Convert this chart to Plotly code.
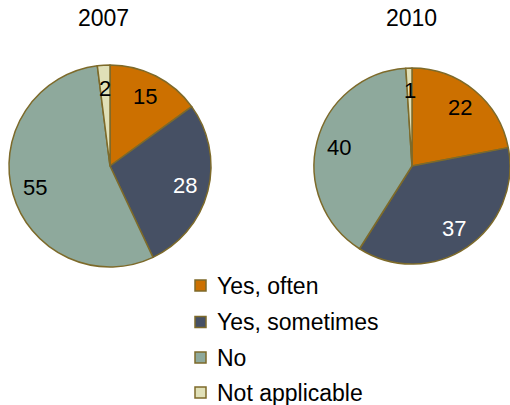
import math
import plotly.graph_objects as go

# Survey answers, percent of respondents
categories = ["Yes, often", "Yes, sometimes", "No", "Not applicable"]
values_2007 = [15, 28, 55, 2]
values_2010 = [22, 37, 40, 1]
years = ["2007", "2010"]

colors = ["#CC7000", "#465064", "#8EA99C", "#E0E0B8"]
label_colors = ["black", "white", "black", "black"]
edge_color = "#7D6A2A"

W, H = 510, 405
FONT = "Liberation Sans, Arial, sans-serif"
FS_LABEL = 22
FS_TEXT = 23


def px_x(x):
    return x / W


def px_y(y):
    return 1 - y / H


# pixel boxes for each pie: (left, right, top, bottom)
pie_boxes = [(9, 211, 65, 267), (314, 510, 65, 267)]
title_pos = [(103, 18), (411, 18)]

fig = go.Figure()
annotations = []

for year, vals, box, tpos in zip(years, [values_2007, values_2010], pie_boxes, title_pos):
    left, right, top, bottom = box
    fig.add_trace(go.Pie(
        labels=categories,
        values=vals,
        sort=False,
        direction="clockwise",
        rotation=0,
        textinfo="none",
        marker=dict(colors=colors, line=dict(color=edge_color, width=1.5)),
        domain=dict(x=[px_x(left), px_x(right)], y=[px_y(bottom), px_y(top)]),
        showlegend=False,
        name=year,
    ))
    # pie geometry in pixels
    cx = (left + right) / 2
    cy = (top + bottom) / 2
    r = min(right - left, bottom - top) / 2
    total = sum(vals)
    acc = 0
    for v, tc in zip(vals, label_colors):
        mid = (acc + v / 2) / total * 2 * math.pi
        acc += v
        lx = cx + 0.77 * r * math.sin(mid)
        ly = cy - 0.77 * r * math.cos(mid)
        annotations.append(dict(
            x=px_x(lx), y=px_y(ly), xref="paper", yref="paper",
            text=str(v), showarrow=False, xanchor="center", yanchor="middle",
            font=dict(family=FONT, size=FS_LABEL, color=tc),
        ))
    annotations.append(dict(
        x=px_x(tpos[0]), y=px_y(tpos[1]), xref="paper", yref="paper",
        text=year, showarrow=False, xanchor="center", yanchor="middle",
        font=dict(family=FONT, size=FS_TEXT, color="black"),
    ))

# legend: swatches and labels
shapes = []
legend_y = [285.5, 322, 357.5, 392.5]
for cat, col, ly in zip(categories, colors, legend_y):
    shapes.append(dict(
        type="rect", xref="paper", yref="paper",
        x0=px_x(195), x1=px_x(206), y0=px_y(ly + 5.5), y1=px_y(ly - 5.5),
        fillcolor=col, line=dict(color=edge_color, width=1.5),
    ))
    annotations.append(dict(
        x=px_x(215), y=px_y(ly), xref="paper", yref="paper",
        text=cat, showarrow=False, xanchor="left", yanchor="middle",
        font=dict(family=FONT, size=FS_TEXT, color="black"),
    ))

fig.update_layout(
    width=W, height=H,
    margin=dict(l=0, r=0, t=0, b=0),
    paper_bgcolor="white",
    plot_bgcolor="white",
    annotations=annotations,
    shapes=shapes,
)

fig.write_html("out.html")
